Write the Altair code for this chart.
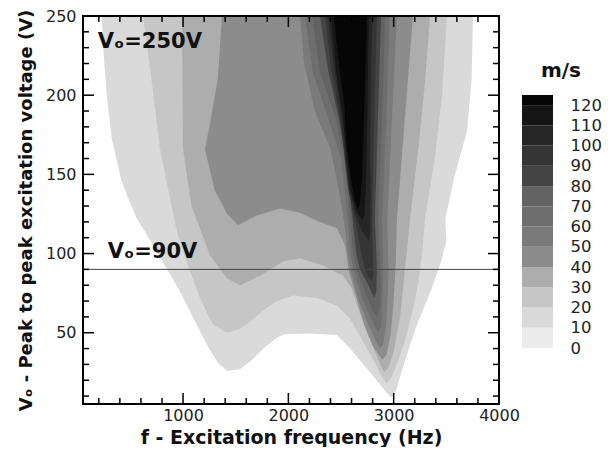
import altair as alt
import pandas as pd

# ---------------- data ----------------
# Boundary of the region where velocity >= level (frequency Hz, voltage V)
C10 = [(228,250),(249,223),(278,198),(325,172),(411,147),(477,135),(563,122),(735,103),(971,76),(1100,59),(1230,42),(1330,31),(1417,26),(1540,27),(1640,32),(1780,41),(1892,47),(1960,49),(2200,49.5),(2462,48.5),(2585,40),(2700,31),(2800,23),(2900,15),(2975,9),(3020,13),(3060,22),(3120,35),(3221,55),(3300,68),(3373,80),(3450,95),(3500,108),(3490,122),(3582,150),(3696,177),(3740,210),(3753,250)]
C20 = [(620,250),(700,210),(781,166),(860,140),(942,114),(1050,92),(1161,72),(1284,55),(1417,50),(1530,52),(1636,57),(1780,65),(1892,70),(2044,73.5),(2272,72),(2462,67),(2585,59),(2680,48),(2746,40),(2830,30),(2880,23),(2930,18),(2980,22),(3040,32),(3107,45),(3174,62),(3230,80),(3270,100),(3297,122),(3390,160),(3460,200),(3506,250)]
C30 = [(990,250),(995,200),(1000,166),(1080,130),(1256,99),(1417,84.4),(1541,80),(1731,86),(1949,95),(2110,97),(2329,92.5),(2519,86),(2600,78),(2680,62),(2760,48),(2840,35),(2880,29),(2910,25),(2950,28),(3000,38),(3060,60),(3100,85),(3130,105),(3155,122),(3240,170),(3300,210),(3345,250)]
C40 = [(1370,250),(1330,210),(1250,180),(1208,166),(1300,140),(1420,125),(1521,118),(1700,124),(1921,128.5),(2100,126),(2300,120),(2462,116),(2540,105),(2570,90),(2655,70),(2720,55),(2800,42),(2860,36),(2890,33),(2930,36),(2970,48),(3000,70),(3020,95),(3031,122),(3100,180),(3183,250)]
C50 = [(2110,250),(2150,220),(2250,190),(2400,166),(2480,140),(2530,120),(2565,100),(2595,88),(2670,70),(2760,55),(2830,45),(2870,40),(2900,43),(2930,55),(2945,75),(2950,90),(2940,122),(2980,180),(3031,250)]
C60 = [(2158,250),(2230,215),(2380,185),(2500,160),(2550,130),(2590,100),(2620,90),(2700,72),(2790,58),(2850,50),(2880,54),(2895,75),(2899,90),(2889,122),(2930,185),(2960,250)]
C70 = [(2224,250),(2300,215),(2450,185),(2530,160),(2575,130),(2615,100),(2650,90),(2730,75),(2810,63),(2845,60),(2868,66),(2878,80),(2872,90),(2851,122),(2890,185),(2920,250)]
C80 = [(2300,250),(2380,215),(2480,185),(2545,160),(2595,130),(2645,100),(2680,90),(2760,80),(2815,72),(2835,76),(2841,90),(2822,122),(2850,185),(2880,250)]
C90 = [(2348,250),(2410,215),(2490,185),(2525,166),(2570,140),(2620,125),(2680,105),(2727,90),(2770,84),(2795,83),(2808,87),(2800,100),(2794,122),(2815,185),(2841,250)]
C100 = [(2376,250),(2440,215),(2505,185),(2535,166),(2580,140),(2640,124),(2700,114),(2745,110),(2765,108),(2778,113),(2780,140),(2775,166),(2782,200),(2794,250)]
C110 = [(2405,250),(2455,215),(2520,185),(2545,166),(2590,140),(2650,126),(2700,121),(2722,124),(2735,140),(2745,166),(2752,200),(2765,250)]
C120 = [(2433,250),(2480,220),(2530,195),(2557,166),(2600,145),(2635,133),(2660,128),(2680,132),(2700,150),(2708,166),(2725,200),(2746,250)]

LEVELS = [0, 10, 20, 30, 40, 50, 60, 70, 80, 90, 100, 110, 120]
BAND_COLORS = ["#ececec", "#dadada", "#c6c6c6", "#adadad", "#8c8c8c", "#7a7a7a",
               "#6e6e6e", "#636363", "#444444", "#353535", "#262626", "#161616", "#060606"]
CONTOURS = [(10, C10), (20, C20), (30, C30), (40, C40), (50, C50), (60, C60),
            (70, C70), (80, C80), (90, C90), (100, C100), (110, C110), (120, C120)]

X_MAJOR = [1000, 2000, 3000, 4000]
X_MINOR = [200, 400, 600, 800, 1200, 1400, 1600, 1800, 2200, 2400, 2600, 2800,
           3200, 3400, 3600, 3800]
Y_MAJOR = [50, 100, 150, 200, 250]
Y_MINOR = [10, 20, 30, 40, 60, 70, 80, 90, 110, 120, 130, 140, 160, 170, 180, 190,
           210, 220, 230, 240]

ANNOT_TEXT = ["Vₒ=250V", "Vₒ=90V"]
ANNOT_F = [190, 285]
ANNOT_V = [230, 97]
HLINE_V = [90]

# ---------------- chart ----------------
W, H = 416, 388
FONT = "DejaVu Sans"
xs = alt.Scale(domain=[50, 4000], nice=False, zero=False)
ys = alt.Scale(domain=[5, 250], nice=False, zero=False)
fill_scale = alt.Scale(domain=LEVELS, range=BAND_COLORS)

X_AX = alt.Axis(values=X_MAJOR, format="d", title="f - Excitation frequency (Hz)",
                ticks=False, tickSize=0, domain=False, grid=False, labelFlush=False,
                labelFont=FONT, labelFontSize=16, labelColor="#222", labelPadding=3,
                titleFont=FONT, titleFontWeight="bold", titleFontSize=19,
                titleColor="#111", titleBaseline="alphabetic", titleY=39)
Y_AX = alt.Axis(values=Y_MAJOR, format="d", title="Vₒ - Peak to peak excitation voltage (V)",
                ticks=False, tickSize=0, domain=False, grid=False, labelFlush=False,
                labelFont=FONT, labelFontSize=16, labelColor="#222", labelPadding=7,
                titleFont=FONT, titleFontWeight="bold", titleFontSize=18,
                titleColor="#111", titleBaseline="alphabetic", titleX=-52)


def X(field):
    return alt.X(field, type="quantitative", scale=xs, axis=X_AX)


def Y(field):
    return alt.Y(field, type="quantitative", scale=ys, axis=Y_AX)


layers = []
for lvl, pts in CONTOURS:
    df = pd.DataFrame({"f": [p[0] for p in pts], "v": [p[1] for p in pts],
                       "i": list(range(len(pts))), "lvl": lvl})
    layers.append(
        alt.Chart(df).mark_line(strokeWidth=0, clip=True).encode(
            x=X("f"), y=Y("v"), order=alt.Order("i:Q"),
            fill=alt.Fill("lvl:O", scale=fill_scale, legend=None)))

layers.append(alt.Chart(pd.DataFrame({"v": HLINE_V})).mark_rule(
    color="#444", strokeWidth=1, clip=True).encode(y=Y("v")))

layers.append(alt.Chart(pd.DataFrame({"f": ANNOT_F, "v": ANNOT_V, "t": ANNOT_TEXT})).mark_text(
    align="left", baseline="alphabetic", font=FONT, fontWeight="bold", fontSize=21,
    color="#111").encode(x=X("f"), y=Y("v"), text="t:N"))

# inward ticks on all four sides
for vals, ln in [(X_MAJOR, 11), (X_MINOR, 6)]:
    d = pd.DataFrame({"f": vals})
    layers.append(alt.Chart(d).mark_rule(color="black", strokeWidth=1.5).encode(
        x=X("f"), y=alt.value(H), y2=alt.value(H - ln)))
    layers.append(alt.Chart(d).mark_rule(color="black", strokeWidth=1.5).encode(
        x=X("f"), y=alt.value(0), y2=alt.value(ln)))
for vals, ln in [(Y_MAJOR, 11), (Y_MINOR, 6)]:
    d = pd.DataFrame({"v": vals})
    layers.append(alt.Chart(d).mark_rule(color="black", strokeWidth=1.5).encode(
        y=Y("v"), x=alt.value(0), x2=alt.value(ln)))
    layers.append(alt.Chart(d).mark_rule(color="black", strokeWidth=1.5).encode(
        y=Y("v"), x=alt.value(W), x2=alt.value(W - ln)))

# frame
layers.append(alt.Chart(pd.DataFrame({"a": [0]})).mark_rect(
    fillOpacity=0, stroke="black", strokeWidth=2).encode(
    x=alt.value(0), x2=alt.value(W), y=alt.value(0), y2=alt.value(H)))

layers.append(alt.Chart(pd.DataFrame({"t": ["m/s"]})).mark_text(
    align="center", baseline="alphabetic", font=FONT, fontWeight="bold", fontSize=20,
    color="#111").encode(x=alt.value(478), y=alt.value(61), text="t:N"))

main = alt.layer(*layers)

# colour bar
cb_df = pd.DataFrame({"lo": LEVELS, "hi": LEVELS[1:] + [125], "lvl": LEVELS})
cbar = alt.Chart(cb_df).mark_rect().encode(
    x=alt.value(439), x2=alt.value(470),
    y=alt.Y("lo:Q", scale=alt.Scale(domain=[0, 125], range=[332, 79]),
            axis=alt.Axis(orient="right", values=LEVELS, format="d", offset=66,
                          labelPadding=5, ticks=False, tickSize=0, domain=False,
                          grid=False, title=None, labelFont=FONT, labelFontSize=16.5,
                          labelColor="#222", labelFlush=False)),
    y2="hi:Q",
    fill=alt.Fill("lvl:O", scale=fill_scale, legend=None))

chart = alt.layer(main, cbar).resolve_scale(y="independent").properties(
    width=W, height=H,
    autosize=alt.AutoSizeParams(type="none"),
    padding={"left": 75, "top": 8, "right": 107, "bottom": 43},
).configure_view(fill="#ececec", strokeWidth=0).configure(font=FONT, background="white")

chart.save("out.html", embed_options={"renderer": "svg", "actions": False})
